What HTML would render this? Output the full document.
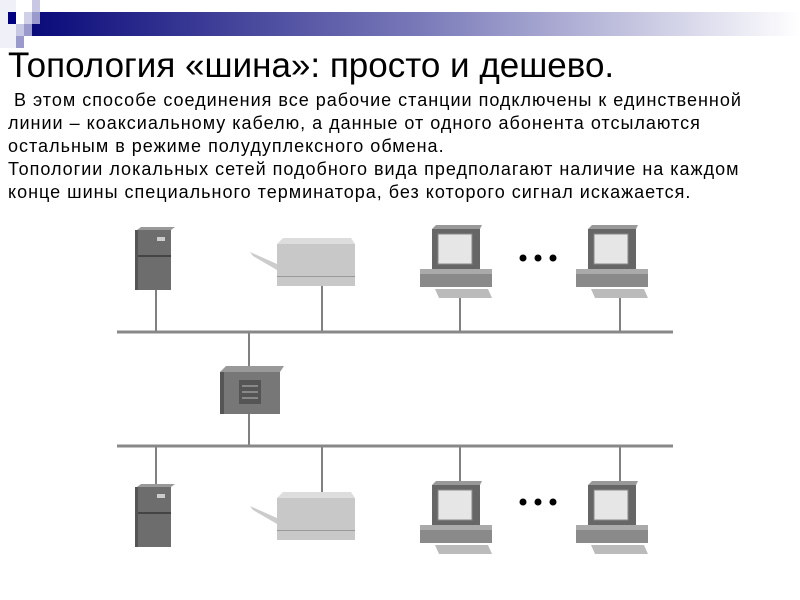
<!DOCTYPE html>
<html><head><meta charset="utf-8"><style>
body{margin:0;width:800px;height:600px;background:#fff;position:relative;overflow:hidden;font-family:"Liberation Sans",sans-serif}
.t{position:absolute;left:8px;top:46px;font-size:35px;line-height:40px;color:#000;white-space:nowrap}
.p{position:absolute;left:8px;top:89px;font-size:18px;letter-spacing:1px;line-height:23px;color:#000;white-space:nowrap}
</style></head><body>
<svg width="800" height="600" style="position:absolute;left:0;top:0">
<defs>
<linearGradient id="g" x1="0" x2="1"><stop offset="0" stop-color="#0a0a7a"/><stop offset="0.5" stop-color="#7878b8"/><stop offset="1" stop-color="#ffffff"/></linearGradient>
<g id="srv"><rect x="0" y="0" width="34" height="60" fill="#6d6d6d"/><polygon points="0,0 4,-3 38,-3 34,0" fill="#999"/><rect x="0" y="25" width="34" height="2" fill="#444"/><rect x="20" y="7" width="8" height="4" fill="#ccc"/><rect x="-2" y="0" width="3" height="60" fill="#555"/></g>
<g id="prn"><polygon points="-5,8 22,20 22,26 -2,12" fill="#ccc"/><rect x="22" y="0" width="78" height="42" fill="#c8c8c8"/><polygon points="22,0 28,-6 96,-6 100,0" fill="#ddd"/><rect x="22" y="32" width="78" height="1" fill="#999"/></g>
<g id="pc"><rect x="12" y="0" width="48" height="44" fill="#666"/><rect x="18" y="5" width="34" height="30" fill="#e6e6e6" stroke="#888"/><polygon points="12,0 16,-4 62,-4 60,0" fill="#999"/><rect x="0" y="40" width="72" height="18" fill="#8a8a8a"/><rect x="0" y="40" width="72" height="5" fill="#aaa"/><polygon points="15,60 68,60 72,69 19,69" fill="#bbb"/></g>
</defs>
<rect x="0" y="0" width="16" height="48" fill="#f0f0f8"/>
<rect x="32" y="0" width="8" height="12" fill="#c8c8e4"/>
<rect x="32" y="12" width="768" height="24" fill="url(#g)"/>
<rect x="8" y="12" width="8" height="12" fill="#000080"/>
<rect x="24" y="12" width="8" height="12" fill="#d0d0e8"/>
<rect x="32" y="12" width="8" height="12" fill="#9a9acc"/>
<rect x="16" y="24" width="8" height="12" fill="#c8c8e4"/>
<rect x="24" y="24" width="8" height="12" fill="#9a9acc"/>
<rect x="16" y="36" width="8" height="12" fill="#9a9acc"/>
<g stroke="#555" stroke-width="1.5">
<line x1="156" y1="290" x2="156" y2="332"/><line x1="322" y1="280" x2="322" y2="332"/><line x1="460" y1="292" x2="460" y2="332"/><line x1="620" y1="292" x2="620" y2="332"/>
<line x1="249" y1="332" x2="249" y2="446"/>
<line x1="156" y1="446" x2="156" y2="485"/><line x1="322" y1="446" x2="322" y2="493"/><line x1="460" y1="446" x2="460" y2="485"/><line x1="620" y1="446" x2="620" y2="485"/>
</g>
<g stroke="#888" stroke-width="3"><line x1="117" y1="332" x2="673" y2="332"/><line x1="117" y1="446" x2="673" y2="446"/></g>
<use href="#srv" x="137" y="230"/><use href="#prn" x="255" y="244"/><use href="#pc" x="420" y="229"/><use href="#pc" x="576" y="229"/>
<use href="#srv" x="137" y="487"/><use href="#prn" x="255" y="498"/><use href="#pc" x="420" y="485"/><use href="#pc" x="576" y="485"/>
<g fill="#000"><circle cx="523" cy="258" r="3.5"/><circle cx="538" cy="258" r="3.5"/><circle cx="553" cy="258" r="3.5"/>
<circle cx="523" cy="502" r="3.5"/><circle cx="538" cy="502" r="3.5"/><circle cx="553" cy="502" r="3.5"/></g>
<g><rect x="220" y="372" width="60" height="42" fill="#777"/><polygon points="220,372 226,366 284,366 280,372" fill="#999"/><rect x="220" y="372" width="4" height="42" fill="#555"/><rect x="239" y="380" width="22" height="24" fill="#555"/><g stroke="#999" stroke-width="1.5"><line x1="242" y1="386" x2="258" y2="386"/><line x1="242" y1="392" x2="258" y2="392"/><line x1="242" y1="398" x2="258" y2="398"/></g></g>
</svg>
<div class="t">Топология «шина»: просто и дешево.</div>
<div class="p">&nbsp;В этом способе соединения все рабочие станции подключены к единственной<br>линии – коаксиальному кабелю, а данные от одного абонента отсылаются<br>остальным в режиме полудуплексного обмена.<br>Топологии локальных сетей подобного вида предполагают наличие на каждом<br>конце шины специального терминатора, без которого сигнал искажается.</div>
</body></html>
